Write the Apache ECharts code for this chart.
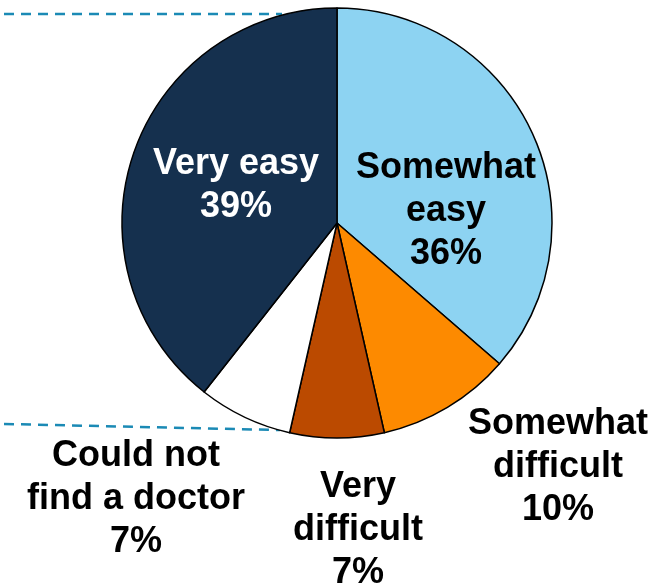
<!DOCTYPE html>
<html>
<head>
<meta charset="utf-8">
<script src="https://cdn.jsdelivr.net/npm/echarts@6/dist/echarts.min.js"></script>
<style>
  html, body { margin: 0; padding: 0; background: #fff; }
  #chart { width: 671px; height: 588px; }
</style>
</head>
<body>
<div id="chart"></div>
<script>
// Ease of finding a doctor — pie, clockwise from 12 o'clock.
var categories = ['Somewhat\neasy', 'Somewhat\ndifficult', 'Very\ndifficult', 'Could not\nfind a doctor', 'Very easy'];
var values = [36, 10, 7, 7, 39];
var colors = ['#8dd3f2', '#fd8a00', '#bb4a00', '#ffffff', '#15304e'];
var labelColors = ['#000000', '#000000', '#000000', '#000000', '#ffffff'];
// label anchor points (px) for each slice's text block
var labelPos = [[446, 211], [558, 467], [358, 530], [136, 499], [236, 186]];

var chart = echarts.init(document.getElementById('chart'), null, { renderer: 'canvas' });

var data = [];
for (var i = 0; i < values.length; i++) {
    data.push({
        name: categories[i],
        value: values[i],
        itemStyle: { color: colors[i] },
        label: { color: labelColors[i] }
    });
}

chart.setOption({
    animation: false,
    graphic: [
        { type: 'line', shape: { x1: 4, y1: 14, x2: 282, y2: 14 },
          style: { stroke: '#1b8ab5', lineWidth: 2.5, lineDash: [10, 7] } },
        { type: 'line', shape: { x1: 4, y1: 424, x2: 280, y2: 430 },
          style: { stroke: '#1b8ab5', lineWidth: 2.5, lineDash: [10, 7] } }
    ],
    series: [{
        type: 'pie',
        center: [337, 223],
        radius: 215,
        startAngle: 90,
        clockwise: true,
        data: data,
        itemStyle: { borderColor: '#000', borderWidth: 1.5 },
        label: {
            show: true,
            position: 'outside',
            fontFamily: 'Liberation Sans, Arial, sans-serif',
            fontWeight: 'bold',
            fontSize: 36,
            lineHeight: 43,
            align: 'center',
            overflow: 'none',
            width: 400,
            formatter: function (p) { return p.name + '\n' + p.value + '%'; }
        },
        labelLine: { show: false },
        labelLayout: function (p) {
            var pos = labelPos[p.dataIndex];
            return { x: pos[0], y: pos[1], align: 'center', verticalAlign: 'middle' };
        },
        emphasis: { disabled: true }
    }]
});
</script>
</body>
</html>
